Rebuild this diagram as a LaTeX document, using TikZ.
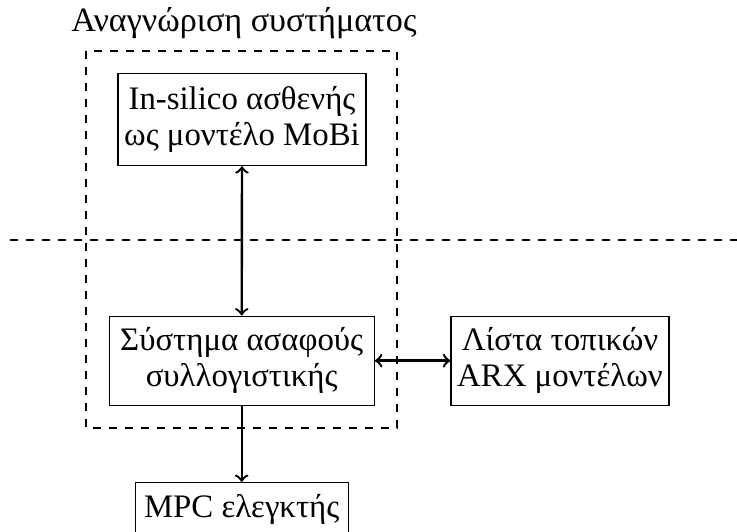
\documentclass[tikz,border=0pt]{standalone}
\usepackage{fontspec}
\setmainfont{Liberation Serif}
\begin{document}
\begin{tikzpicture}[x=0.375pt,y=-0.375pt,
  font=\fontsize{12.3pt}{13.5pt}\selectfont,
  blockbox/.style={draw, line width=0.5pt, align=center, inner sep=0pt},
  conn/.style={line width=0.9pt},
  region/.style={draw, dashed, line width=0.4pt}]
\useasboundingbox (0,0) rectangle (737,532);
\node[font=\fontsize{12.8pt}{13.5pt}\selectfont] (title) at (244,23) {Αναγνώριση συστήματος};
\draw[region] (86,51) rectangle (397,428);
\draw[region] (10,240) -- (745,240);
\node[blockbox, minimum width={248*0.375pt}, minimum height={92*0.375pt}] (patient) at (242,119.5) {In-silico ασθενής\\ως μοντέλο MoBi};
\node[blockbox, minimum width={265*0.375pt}, minimum height={89*0.375pt}] (fuzzy) at (241.7,360.7) {Σύστημα ασαφούς\\συλλογιστικής};
\node[blockbox, minimum width={218*0.375pt}, minimum height={89*0.375pt}] (arx) at (560,360.7) {Λίστα τοπικών\\ARX μοντέλων};
\node[blockbox, minimum width={213*0.375pt}, minimum height={54*0.375pt}, anchor=north] (mpc) at (241.7,482) {MPC ελεγκτής};
\draw[conn, <->] (patient.south) -- (fuzzy.north);
\draw[conn, <->] (fuzzy.east) -- (arx.west);
\draw[conn, ->] (fuzzy.south) -- (mpc.north);
\end{tikzpicture}
\end{document}
